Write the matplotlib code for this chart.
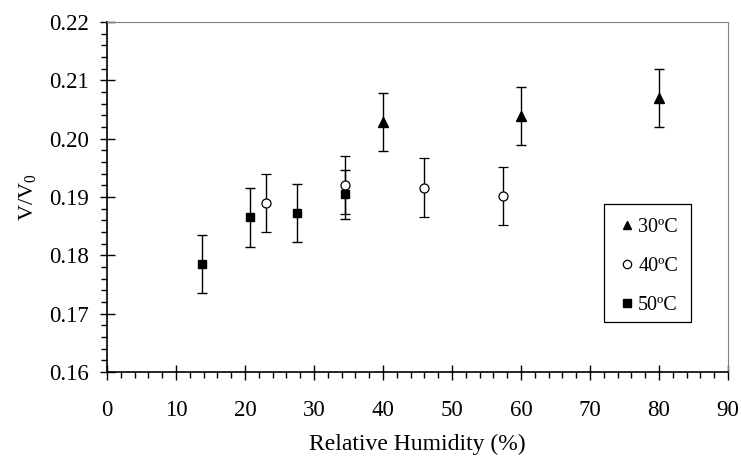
## V/V0 versus relative humidity at three temperatures
import matplotlib
matplotlib.use('Agg')
import matplotlib.pyplot as plt
from matplotlib.ticker import MultipleLocator
from matplotlib.lines import Line2D
from matplotlib.patches import Rectangle

plt.rcParams['font.family'] = ['Liberation Serif', 'DejaVu Serif']
plt.rcParams['mathtext.fontset'] = 'custom'
plt.rcParams['mathtext.rm'] = 'Liberation Serif'
plt.rcParams['mathtext.it'] = 'Liberation Serif:italic'

# 30 C
rh30 = [40.0, 60.0, 80.0]
v30 = [0.2028, 0.2039, 0.2070]
err30 = [0.0050, 0.0050, 0.0050]
# 40 C
rh40 = [23.0, 34.5, 46.0, 57.4]
v40 = [0.1890, 0.1921, 0.1916, 0.1902]
err40 = [0.0050, 0.0050, 0.0050, 0.0050]
# 50 C
rh50 = [13.8, 20.7, 27.5, 34.5]
v50 = [0.1785, 0.1865, 0.1873, 0.1905]
err50 = [0.0050, 0.0050, 0.0050, 0.0042]

fig = plt.figure(figsize=(7.41, 4.58), dpi=100)
ax = fig.add_axes([0.1444, 0.1878, 0.8381, 0.7642])

ax.errorbar(rh30, v30, yerr=err30, fmt='^', color='black', ms=6.5,
            ecolor='black', elinewidth=1, capsize=3.5, capthick=1)
ax.errorbar(rh40, v40, yerr=err40, fmt='o', color='black', mfc='white', ms=6.5,
            mew=0.9, ecolor='black', elinewidth=1, capsize=3.5, capthick=1)
ax.errorbar(rh50, v50, yerr=err50, fmt='s', color='black', ms=6,
            ecolor='black', elinewidth=1, capsize=3.5, capthick=1)

ax.set_xlim(0, 90)
ax.set_ylim(0.16, 0.22)
ax.xaxis.set_major_locator(MultipleLocator(10))
ax.xaxis.set_minor_locator(MultipleLocator(2))
ax.yaxis.set_major_locator(MultipleLocator(0.01))
ax.yaxis.set_minor_locator(MultipleLocator(0.002))
ax.yaxis.set_major_formatter(plt.FuncFormatter(lambda v, p: '%.2f' % v))

ax.tick_params(axis='both', which='major', direction='inout', length=10.8, width=1,
               labelsize=16.5, colors='black')
ax.tick_params(axis='y', which='major', pad=7.5)
ax.tick_params(axis='x', which='major', pad=15)
ax.tick_params(axis='both', which='minor', direction='out', length=4.3, width=1)
for s in ['top', 'right']:
    ax.spines[s].set_color('#808080')
for s in ['left', 'bottom']:
    ax.spines[s].set_linewidth(1.2)

ax.set_xlabel('Relative Humidity (%)', fontsize=17, labelpad=9)
ax.set_ylabel('V/V$_0$', fontsize=16, labelpad=8)

# legend frame drawn separately so the entries can sit where they do in the original
ax.add_patch(Rectangle((0.8003, 0.143), 0.140, 0.337, transform=ax.transAxes,
                       fill=False, edgecolor='black', lw=0.9, zorder=5))
handles = [Line2D([], [], ls='none', marker='^', color='black', ms=6),
           Line2D([], [], ls='none', marker='o', color='black', mfc='white', ms=6, mew=0.9),
           Line2D([], [], ls='none', marker='s', color='black', ms=5.5)]
labels = ['30ºC', '40ºC', '50ºC']
leg = ax.legend(handles, labels, loc='upper left', bbox_to_anchor=(0.8245, 0.441),
                fontsize=14.5, frameon=False, handlelength=0.8, handletextpad=0.15,
                labelspacing=1.0, borderpad=0, borderaxespad=0)

plt.savefig('out.png', dpi=100)
